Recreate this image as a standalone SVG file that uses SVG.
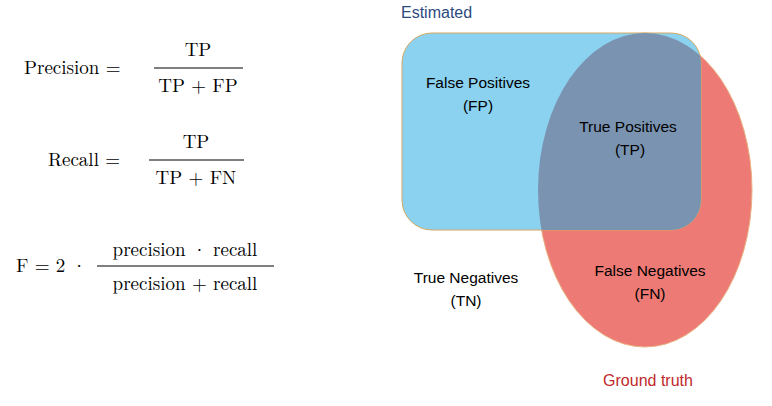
<svg xmlns="http://www.w3.org/2000/svg" width="772" height="406" viewBox="0 0 772 406">
<style>
.m{font-family:"Latin Modern Roman","Liberation Serif",serif;font-size:19px;fill:#000}
.s{font-family:"Liberation Sans",Arial,sans-serif;font-size:15.5px;fill:#000;text-anchor:middle}
</style>
<defs><clipPath id="rc"><rect x="402" y="33" width="299" height="197" rx="30"/></clipPath></defs>
<rect width="772" height="406" fill="#fff"/>
<g id="formulas">
<text class="m" x="24" y="74">Precision =</text>
<text class="m" x="198" y="56" text-anchor="middle">TP</text>
<line x1="154" y1="68" x2="243" y2="68" stroke="#000" stroke-width="1"/>
<text class="m" x="198" y="92" text-anchor="middle">TP + FP</text>
<text class="m" x="48" y="166">Recall =</text>
<text class="m" x="196" y="148" text-anchor="middle">TP</text>
<line x1="149" y1="160" x2="244" y2="160" stroke="#000" stroke-width="1"/>
<text class="m" x="196" y="184" text-anchor="middle">TP + FN</text>
<text class="m" x="16" y="272">F = 2 ·</text>
<text class="m" x="185" y="256" text-anchor="middle">precision · recall</text>
<line x1="97" y1="266" x2="274" y2="266" stroke="#000" stroke-width="1"/>
<text class="m" x="185" y="290" text-anchor="middle">precision + recall</text>
</g>
<g id="ground-truth">
<ellipse cx="645" cy="190" rx="107" ry="157" fill="#ee7a75" stroke="#e8b080" stroke-width="1"/>
</g>
<g id="estimated">
<rect x="402" y="33" width="299" height="197" rx="30" fill="#8ad2f0" stroke="#d8a860" stroke-width="1"/>
</g>
<g id="overlap">
<ellipse cx="645" cy="190" rx="107" ry="157" fill="#7a93b1" clip-path="url(#rc)"/>
</g>
<g id="labels">
<text x="401" y="18" font-family="Liberation Sans,Arial,sans-serif" font-size="16" fill="#2d4a80">Estimated</text>
<text class="s" x="478" y="88">False Positives</text>
<text class="s" x="478" y="111">(FP)</text>
<text class="s" x="628" y="132">True Positives</text>
<text class="s" x="630" y="155">(TP)</text>
<text class="s" x="650" y="276">False Negatives</text>
<text class="s" x="650" y="299">(FN)</text>
<text class="s" x="466" y="283">True Negatives</text>
<text class="s" x="466" y="306">(TN)</text>
<text x="648" y="386" font-family="Liberation Sans,Arial,sans-serif" font-size="16" fill="#c0282a" text-anchor="middle">Ground truth</text>
</g>
<g id="connectors"/>
</svg>
